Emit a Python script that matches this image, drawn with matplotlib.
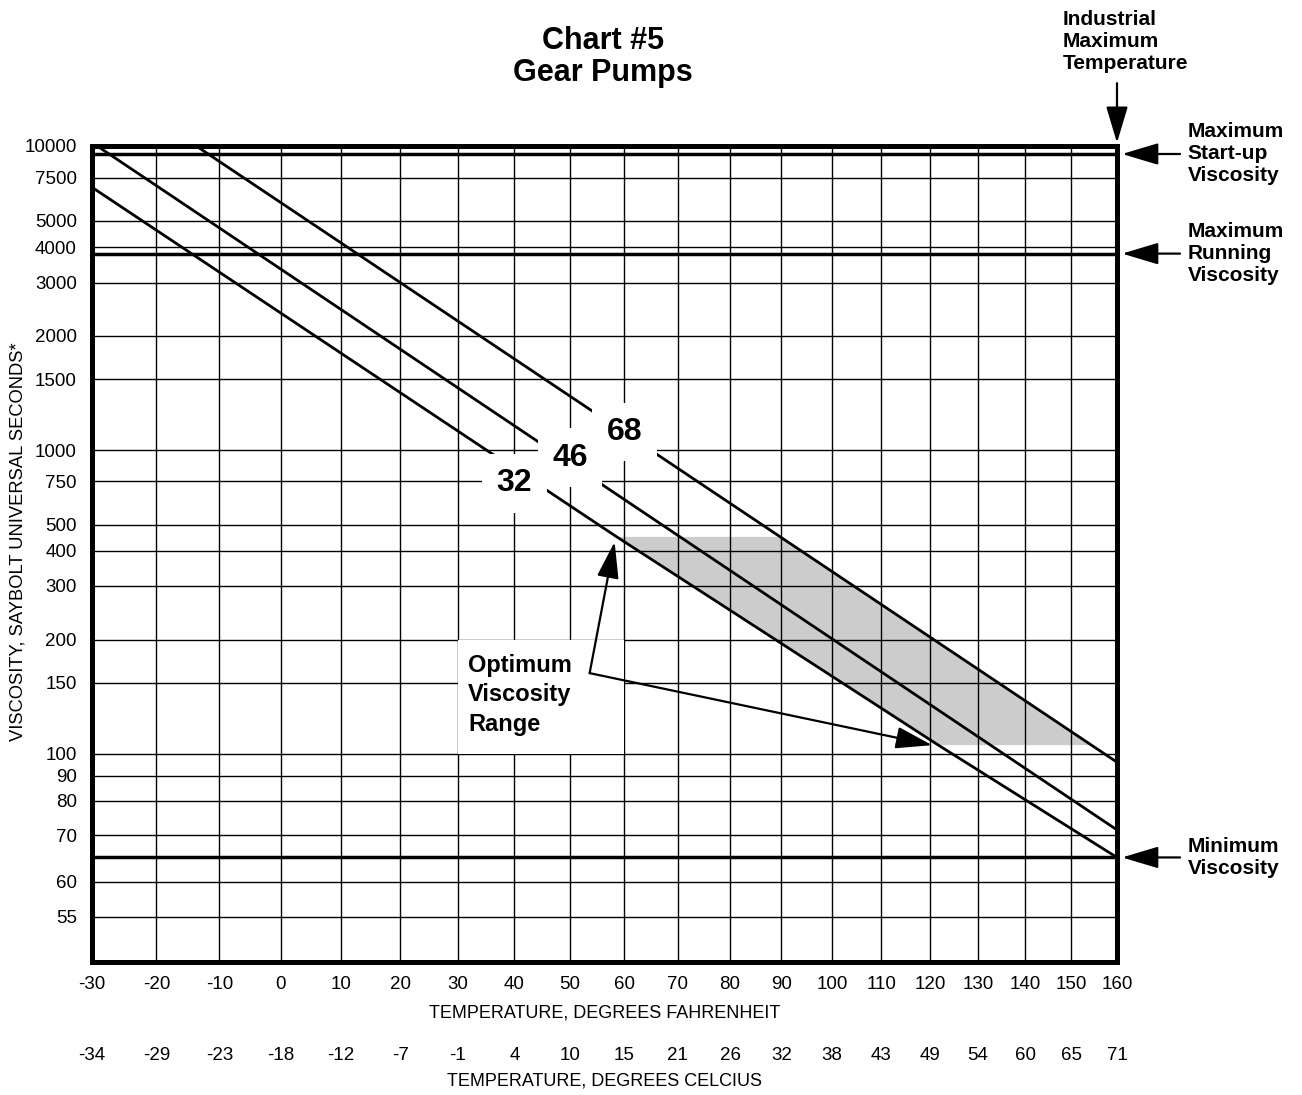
import numpy as np
import matplotlib
matplotlib.use("Agg")
import matplotlib.pyplot as plt
from matplotlib.patches import Polygon, Rectangle
from matplotlib.ticker import NullLocator
import matplotlib.transforms as mtransforms

plt.rcParams['font.family'] = ['Liberation Sans', 'DejaVu Sans']

# ---- data ----
temps_f = [-30, -20, -10, 0, 10, 20, 30, 40, 50, 60, 70, 80, 90, 100, 110, 120, 130, 140, 150, 160]
temps_c = ['-34', '-29', '-23', '-18', '-12', '-7', '-1', '4', '10', '15',
           '21', '26', '32', '38', '43', '49', '54', '60', '65', '71']
visc_ticks = [55, 60, 70, 80, 90, 100, 150, 200, 300, 400, 500, 750,
              1000, 1500, 2000, 3000, 4000, 5000, 7500, 10000]

# ISO grade lines (temperature F, viscosity SUS)
grade_names = ['32', '46', '68']
grade32_temp = [-30, 58.6, 121.7, 160]
grade32_visc = [6850, 450, 105, 65]
grade46_temp = [-29.2, 160]
grade46_visc = [10000, 71.4]
grade68_temp = [-13.7, 160]
grade68_visc = [10000, 96]
grade_label_temp = [40, 50, 60]
grade_label_visc = [735, 935, 1110]

# optimum viscosity range (shaded)
optimum_temp = [58.6, 89.6, 154.4, 121.7]
optimum_visc = [450, 450, 105, 105]

max_startup_visc = 9300
max_running_visc = 3800
min_visc = 65
max_temp = 160

# ---- chart paper ruling for the viscosity axis (height above bottom border) ----
ruling_visc = [50, 55, 60, 70, 80, 90, 100, 150, 200, 300, 400, 500, 750,
               1000, 1500, 2000, 3000, 4000, 5000, 7500, 10000]
ruling_height = [0, 45.3, 80.3, 127, 161.3, 186.3, 208.3, 279.3, 322, 376, 411.3,
                 437.5, 480.7, 511.7, 583, 626.3, 679.3, 714.7, 741.3, 784.3, 816]
ruling_log = np.log10(ruling_visc)


def visc_fwd(v):
    with np.errstate(divide='ignore', invalid='ignore'):
        return np.interp(np.log10(v), ruling_log, ruling_height)


def visc_inv(h):
    return 10 ** np.interp(h, ruling_height, ruling_log)


def temp_fwd(t):
    with np.errstate(divide='ignore', invalid='ignore'):
        return np.log10(np.asarray(t) + 460.0)


def temp_inv(u):
    return 10 ** np.asarray(u) - 460.0


fig = plt.figure(figsize=(13.02, 10.95), dpi=100)
ax = fig.add_axes([92 / 1302, 1 - 962 / 1095, 1025 / 1302, 816 / 1095])

ax.set_xscale('function', functions=(temp_fwd, temp_inv))
ax.set_yscale('function', functions=(visc_fwd, visc_inv))
ax.set_xlim(-30, 160)
ax.set_ylim(50, 10000)

ax.set_xticks(temps_f, labels=[str(t) for t in temps_f])
ax.set_yticks(visc_ticks, labels=[str(v) for v in visc_ticks])
ax.xaxis.set_minor_locator(NullLocator())
ax.yaxis.set_minor_locator(NullLocator())
ax.tick_params(length=0, labelsize=13.5)
ax.tick_params(axis='x', pad=10)
ax.tick_params(axis='y', pad=11)

ax.set_axisbelow(True)
ax.grid(True, color='black', lw=1.0)
for s in ax.spines.values():
    s.set_linewidth(3.6)
    s.set_zorder(6)

# shaded optimum range
ax.add_patch(Polygon(list(zip(optimum_temp, optimum_visc)), closed=True,
                     facecolor='#cccccc', edgecolor='none', zorder=0.3))

# limit lines
for v in [max_startup_visc, max_running_visc, min_visc]:
    ax.axhline(v, color='black', lw=2.5, zorder=3)

# grade lines
for t, v in [(grade32_temp, grade32_visc), (grade46_temp, grade46_visc), (grade68_temp, grade68_visc)]:
    ax.plot(t, v, color='black', lw=2.0, zorder=3, solid_capstyle='butt')

for name, t, v in zip(grade_names, grade_label_temp, grade_label_visc):
    ax.text(t, v, name, ha='center', va='center', fontsize=23, fontweight='bold', zorder=7,
            bbox=dict(boxstyle='square,pad=0.45', facecolor='white', edgecolor='none'))

# optimum viscosity range label and arrows
ax.add_patch(Rectangle((30, 100), 30, 100, facecolor='white', edgecolor='none', zorder=2))
ax.text(31.8, 140, "Optimum\nViscosity\nRange", ha='left', va='center', fontsize=17,
        fontweight='bold', linespacing=1.36, zorder=7)
arrow_kw = dict(arrowstyle='-|>,head_length=1.5,head_width=0.45', mutation_scale=15,
                color='black', lw=1.6, shrinkA=0, shrinkB=0)
ax.annotate('', xy=(58.2, 431), xytext=(53.6, 160), arrowprops=arrow_kw, zorder=8)
ax.annotate('', xy=(120.4, 105), xytext=(53.6, 160), arrowprops=arrow_kw, zorder=8)

# right side notes
side = mtransforms.blended_transform_factory(ax.transAxes, ax.transData)
notes = [(max_startup_visc, "Maximum\nStart-up\nViscosity"),
         (max_running_visc, "Maximum\nRunning\nViscosity"),
         (min_visc, "Minimum\nViscosity")]
for v, label in notes:
    ax.annotate('', xy=(1.005, v), xycoords=('axes fraction', 'data'),
                xytext=(1.0615, v), textcoords=('axes fraction', 'data'),
                arrowprops=arrow_kw, annotation_clip=False)
    ax.text(1.069, v, label, transform=side, ha='left', va='center', fontsize=15,
            fontweight='bold', linespacing=1.2, clip_on=False)

ax.annotate('', xy=(max_temp, 1.004), xycoords=('data', 'axes fraction'),
            xytext=(max_temp, 1.077), textcoords=('data', 'axes fraction'),
            arrowprops=arrow_kw, annotation_clip=False)
ax.text(0.947, 1.1275, "Industrial\nMaximum\nTemperature", transform=ax.transAxes,
        ha='left', va='center', fontsize=15, fontweight='bold', linespacing=1.2)

# axis labels
ax.set_xlabel("TEMPERATURE, DEGREES FAHRENHEIT", fontsize=13, labelpad=8)
bottom = ax.get_xaxis_transform()
for t, c in zip(temps_f, temps_c):
    ax.text(t, -0.114, c, transform=bottom, ha='center', va='center', fontsize=13.5)
ax.text(0.5, -0.146, "TEMPERATURE, DEGREES CELCIUS", transform=ax.transAxes,
        ha='center', va='center', fontsize=13)
fig.text(18 / 1302, 1 - 542 / 1095, "VISCOSITY, SAYBOLT UNIVERSAL SECONDS*", rotation=90,
         ha='center', va='center', fontsize=13.2)

fig.text(603 / 1302, 1 - 57 / 1095, "Chart #5\nGear Pumps", ha='center', va='center',
         fontsize=22, fontweight='bold', linespacing=1.08)

fig.savefig('out.png', dpi=100)
